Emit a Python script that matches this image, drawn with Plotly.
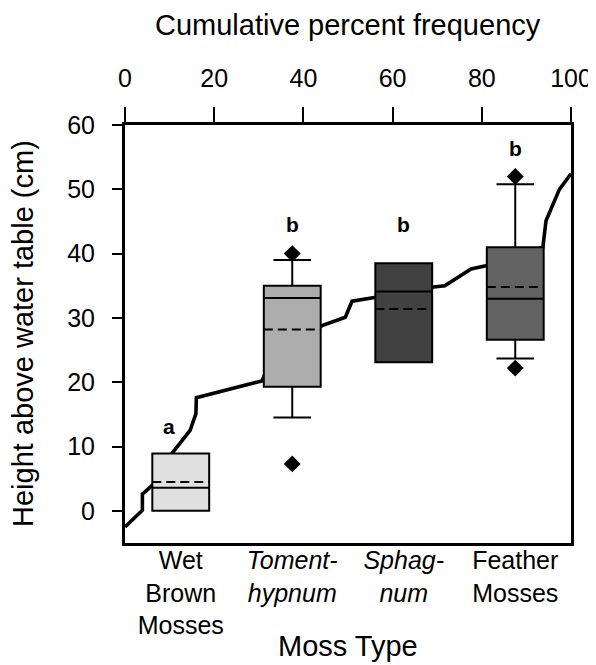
import plotly.graph_objects as go

# ---- data ----
categories = ["Wet Brown Mosses", "Tomenthypnum", "Sphagnum", "Feather Mosses"]
tick_text = ["Wet<br>Brown<br>Mosses", "<i>Toment-</i><br><i>hypnum</i>",
             "<i>Sphag-</i><br><i>num</i>", "Feather<br>Mosses"]
q1 = [0.0, 19.3, 23.1, 26.6]
median = [3.6, 33.1, 34.1, 33.0]
q3 = [8.9, 35.0, 38.5, 41.0]
mean = [4.5, 28.2, 31.4, 34.8]
lower_whisker = [0.0, 14.5, 23.1, 23.7]
upper_whisker = [8.9, 39.0, 38.5, 50.8]
box_colors = ["#e0e0e0", "#adadad", "#414141", "#626262"]

outlier_cat = ["Tomenthypnum", "Tomenthypnum", "Feather Mosses", "Feather Mosses"]
outlier_val = [40.0, 7.3, 52.0, 22.2]

letters = ["a", "b", "b", "b"]
letter_y = [13.1, 44.6, 44.6, 56.3]

cum_pct = [0, 3.9, 3.9, 6.5, 10.5, 14.6, 15.9, 16.0, 30.7, 31.4, 44.2, 49.4,
           50.9, 56.3, 69.2, 71.7, 77.6, 80.9, 93.7, 94.4, 97.4, 100]
cum_height = [-2.5, 0.1, 2.6, 4.2, 8.9, 12.5, 15.1, 17.6, 20.2, 21.3, 28.8, 30.1,
              32.6, 33.2, 34.8, 35.0, 37.6, 38.1, 41.0, 45.1, 50.0, 52.4]

x_ticks = [0, 20, 40, 60, 80, 100]
y_ticks = [0, 10, 20, 30, 40, 50, 60]

FONT = "Liberation Sans, Arial, sans-serif"
BOX_W = 0.51
pos = {c: i for i, c in enumerate(categories)}

fig = go.Figure()

# cumulative frequency line (top axis, drawn beneath boxes)
fig.add_trace(go.Scatter(x=cum_pct, y=cum_height, mode="lines",
                         line=dict(color="black", width=3.6),
                         xaxis="x", yaxis="y", showlegend=False, hoverinfo="skip"))

for i, cat in enumerate(categories):
    fig.add_trace(go.Box(
        x=[pos[cat]], q1=[q1[i]], median=[median[i]], q3=[q3[i]],
        lowerfence=[lower_whisker[i]], upperfence=[upper_whisker[i]],
        boxpoints=False, width=BOX_W, whiskerwidth=0.66,
        fillcolor=box_colors[i], line=dict(color="black", width=2),
        xaxis="x2", yaxis="y", showlegend=False, name=cat))

# dashed mean lines across each box
mx, my = [], []
for i, cat in enumerate(categories):
    mx += [pos[cat] - BOX_W / 2, pos[cat] + BOX_W / 2, None]
    my += [mean[i], mean[i], None]
fig.add_trace(go.Scatter(x=mx, y=my, mode="lines",
                         line=dict(color="black", width=2, dash="9px,5px"),
                         xaxis="x2", yaxis="y", showlegend=False, hoverinfo="skip"))

fig.add_trace(go.Scatter(x=[pos[c] for c in outlier_cat], y=outlier_val, mode="markers",
                         marker=dict(symbol="diamond", size=13, color="black"),
                         xaxis="x2", yaxis="y", showlegend=False))

annotations = []
for i, cat in enumerate(categories):
    annotations.append(dict(x=pos[cat], y=letter_y[i], xref="x2", yref="y",
                            text="<b>%s</b>" % letters[i], showarrow=False,
                            xshift=-12 if i == 0 else 0,
                            font=dict(family=FONT, size=21, color="black")))
annotations += [
    dict(x=0.5, y=1, xref="paper", yref="paper", yanchor="middle", yshift=100,
         text="Cumulative percent frequency", showarrow=False,
         font=dict(family=FONT, size=29, color="black")),
    dict(x=0.5, y=0, xref="paper", yref="paper", yanchor="middle", yshift=-103,
         text="Moss Type", showarrow=False,
         font=dict(family=FONT, size=29, color="black")),
    dict(x=0, y=0.5, xref="paper", yref="paper", xanchor="center", xshift=-102,
         text="Height above water table (cm)", textangle=-90, showarrow=False,
         font=dict(family=FONT, size=29, color="black")),
]

fig.update_layout(
    width=596, height=665,
    margin=dict(l=117, r=24, t=117, b=130),
    paper_bgcolor="white", plot_bgcolor="white",
    boxmode="overlay",
    font=dict(family=FONT, size=25, color="black"),
    xaxis=dict(side="top", range=[0, 100], tickvals=x_ticks,
               ticks="outside", ticklen=15, tickwidth=1.5, tickcolor="black",
               showline=True, linewidth=3, linecolor="black", mirror=True,
               showgrid=False, zeroline=False, ticklabelstandoff=10,
               tickfont=dict(size=25)),
    xaxis2=dict(overlaying="x", side="bottom", type="linear",
                range=[-0.5, 3.5], tickvals=list(range(len(categories))),
                ticktext=tick_text,
                ticks="", showline=False, showgrid=False, zeroline=False,
                tickfont=dict(size=25)),
    yaxis=dict(range=[-5, 60], tickvals=y_ticks, ticks="outside", ticklen=10,
               tickwidth=1.5, tickcolor="black", showline=True, linewidth=3,
               linecolor="black", mirror=True, showgrid=False, zeroline=False,
               ticklabelstandoff=12, tickfont=dict(size=25)),
    annotations=annotations,
)

fig.write_html("out.html")
